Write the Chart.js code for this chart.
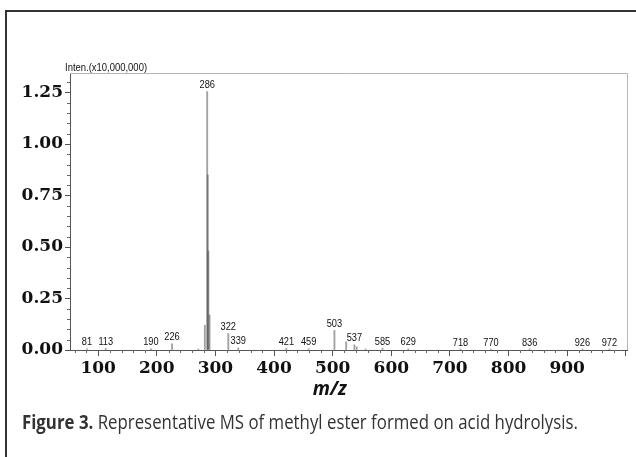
<!DOCTYPE html>
<html><head><meta charset="utf-8">
<script src="https://cdn.jsdelivr.net/npm/chart.js@4.4.1/dist/chart.umd.min.js"></script>
<style>
html,body{margin:0;padding:0;background:#fff;width:636px;height:457px;overflow:hidden;}
#wrap{position:relative;width:636px;height:457px;}
#frame{position:absolute;left:5px;top:10px;width:700px;height:500px;border-left:2px solid #333;border-top:2px solid #333;}
canvas{position:absolute;left:0;top:0;}
#cap{position:absolute;left:22px;top:412px;font-family:'Open Sans',sans-serif;font-size:20px;line-height:20px;color:#333;white-space:nowrap;transform-origin:0 0;}
#cap b{font-weight:700;}
</style></head><body>
<div id="wrap"><div id="frame"></div><canvas id="c" width="636" height="457"></canvas>
<div id="cap"><b>Figure 3.</b> Representative MS of methyl ester formed on acid hydrolysis.</div></div>
<script>
// m/z of every peak line
const peakMz = [81, 113, 190, 226, 271, 282, 286, 287, 288, 290, 322, 339, 421, 459, 503, 523, 537, 541, 556, 585, 629, 718, 770, 836, 926, 972];
// intensity (x10,000,000)
const peakIntensity = [0.006, 0.008, 0.006, 0.03, 0.005, 0.12, 1.255, 0.85, 0.48, 0.17, 0.08, 0.01, 0.008, 0.006, 0.095, 0.04, 0.025, 0.015, 0.005, 0.008, 0.006, 0.005, 0.005, 0.005, 0.005, 0.005];
// peaks that carry an m/z label
const labelledMz = [81, 113, 190, 226, 286, 322, 339, 421, 459, 503, 537, 585, 629, 718, 770, 836, 926, 972];
const xTickLabels = [100, 200, 300, 400, 500, 600, 700, 800, 900];
const yTickLabels = ['0.00', '0.25', '0.50', '0.75', '1.00', '1.25'];
const intensityTitle = 'Inten.(x10,000,000)';
const xTitle = 'm/z';

const smallFont = "11px 'Liberation Sans', Arial, sans-serif";
const tickFont = { family: "'DejaVu Serif', serif", weight: 'bold', size: 17 };

function narrowText(ctx, text, x, y, align, sx) {
  ctx.save();
  ctx.translate(x, y);
  ctx.scale(sx, 1);
  ctx.textAlign = align;
  ctx.fillText(text, 0, 0);
  ctx.restore();
}

const extras = {
  id: 'extras',
  afterDraw(chart) {
    const ctx = chart.ctx, a = chart.chartArea;
    const xs = chart.scales.x, ys = chart.scales.y;
    ctx.save();
    // light top/right frame
    ctx.strokeStyle = '#b5b5b5'; ctx.lineWidth = 1;
    ctx.beginPath();
    ctx.moveTo(a.left, a.top + 0.5); ctx.lineTo(a.right + 0.5, a.top + 0.5); ctx.lineTo(a.right + 0.5, a.bottom);
    ctx.stroke();
    // minor ticks
    ctx.strokeStyle = '#666';
    ctx.beginPath();
    for (let v = 60; v < xs.max; v += 20) {
      if (v % 100 === 0) continue;
      const px = Math.round(xs.getPixelForValue(v)) + 0.5;
      ctx.moveTo(px, a.bottom); ctx.lineTo(px, a.bottom + 3);
    }
    for (let k = 1; k * 0.05 < ys.max; k++) {
      if (k % 5 === 0) continue;
      const py = Math.round(ys.getPixelForValue(k * 0.05)) + 0.5;
      ctx.moveTo(a.left - 3, py); ctx.lineTo(a.left, py);
    }
    ctx.stroke();
    // peak labels
    ctx.fillStyle = '#111';
    ctx.font = smallFont;
    ctx.textBaseline = 'bottom';
    labelledMz.forEach(m => {
      const i = peakMz.indexOf(m);
      const px = xs.getPixelForValue(m);
      const py = ys.getPixelForValue(peakIntensity[i]) - 1;
      narrowText(ctx, String(m), px, py, 'center', 0.84);
    });
    // intensity title
    ctx.textBaseline = 'middle';
    narrowText(ctx, intensityTitle, a.left - 5, a.top - 5, 'left', 0.86);
    // m/z title
    ctx.font = "italic bold 19px 'Open Sans', sans-serif";
    ctx.textAlign = 'center';
    ctx.fillText(xTitle, xs.getPixelForValue(500) - 3, 390);
    ctx.restore();
  }
};

new Chart(document.getElementById('c'), {
  type: 'bar',
  data: {
    datasets: [{
      data: peakMz.map((m, i) => ({ x: m, y: peakIntensity[i] })),
      backgroundColor: 'rgba(70,70,70,0.5)',
      borderWidth: 0,
      barThickness: 1.2,
      grouped: false
    }]
  },
  options: {
    responsive: false,
    animation: false,
    devicePixelRatio: 1,
    layout: { padding: { left: 0, top: 73, right: 9, bottom: 0 } },
    plugins: { legend: { display: false }, tooltip: { enabled: false } },
    scales: {
      x: {
        type: 'linear', min: 52, max: 1002, offset: false,
        afterFit(s) { s.height = 107; },
        border: { color: '#555', width: 1 },
        grid: { offset: false, drawOnChartArea: false, tickLength: 6, color: '#555' },
        ticks: {
          stepSize: 100, autoSkip: false, includeBounds: false, maxRotation: 0, padding: 2,
          color: '#111', font: tickFont,
          callback: v => xTickLabels.includes(v) ? String(v) : ''
        }
      },
      y: {
        min: 0, max: 1.345,
        afterFit(s) { s.width = 70; },
        border: { color: '#555', width: 1 },
        grid: { drawOnChartArea: false, tickLength: 5, color: '#555' },
        ticks: {
          stepSize: 0.25, autoSkip: false, includeBounds: false, padding: 2,
          color: '#111', font: tickFont,
          callback: v => { const s = v.toFixed(2); return yTickLabels.includes(s) ? s : ''; }
        }
      }
    }
  },
  plugins: [extras]
});

const cap = document.getElementById('cap');
const w = cap.getBoundingClientRect().width;
cap.style.transform = 'scaleX(' + (556 / w) + ')';
</script>
</body></html>
